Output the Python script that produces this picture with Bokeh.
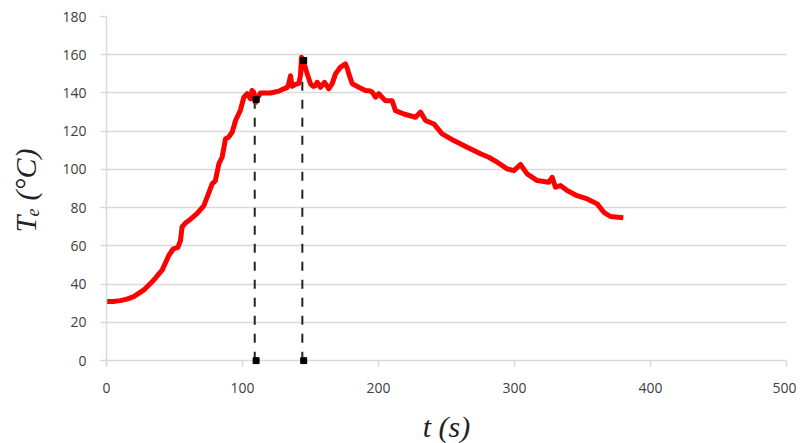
from bokeh.plotting import figure
from bokeh.models import Range1d, FixedTicker
from bokeh.embed import file_html
from bokeh.resources import INLINE

# Temperature curve Te(t)
t_s = [0, 5, 10, 15, 20, 27.5, 34.8, 41, 45.8, 49, 52.5, 54.4, 55.6, 58, 61.8, 66.7, 71.5,
       74, 77.7, 80, 82.6, 85, 87.5, 90, 92.4, 94.9, 98.5, 101, 103.4, 105.9, 107, 108.3,
       109.6, 110.8, 113.2, 117, 120.6, 123, 127, 130.4, 132.8, 134, 135.3, 136.5, 139,
       141.4, 142.6, 143.4, 145, 147.6, 150, 152, 153.7, 154.9, 157.4, 160.3, 163.5, 166,
       168.4, 172, 175.7, 177, 178.2, 180.7, 185.5, 190.4, 194, 195.4, 197.8, 200.2, 205,
       210, 212.5, 218.6, 227.2, 230.9, 234.6, 240.7, 246.8, 255.4, 265.2, 275, 281.1,
       287.3, 294.6, 299.5, 304.4, 309.3, 316.7, 325.2, 327.7, 330.1, 333.8, 338.7, 346,
       353.5, 360.8, 365.7, 370.6, 380]
te_c = [31, 31, 31.4, 32.2, 33.5, 37, 42.2, 47.5, 55, 58.4, 59.3, 62.8, 70, 72, 74, 77, 81,
        85.5, 92.5, 94, 102.9, 106.4, 116, 117, 119.5, 125.6, 131, 137.8, 139.6, 137, 141.3,
        140.4, 135, 137, 140, 140, 140, 140.4, 141, 142.2, 142.8, 144.7, 149, 143.5, 144.5,
        145, 149, 158.7, 156, 150, 144.8, 143.5, 143.9, 145.6, 143, 145.6, 142.2, 145,
        150, 153.5, 155.2, 153, 150, 144.8, 143, 141.3, 141, 140.4, 137.8, 139.6, 136,
        136, 130.8, 129, 127.3, 130, 125.6, 123.8, 118.6, 115.1, 111.6, 108.2, 106.4,
        103.8, 100.3, 99.4, 102.6, 97.7, 94.2, 93.3, 95.9, 90.7, 91.6, 89, 86.3,
        84.6, 82, 77.6, 75.4, 74.7]

# Marked instants
mark_t = [110, 145]
mark_te = [136.6, 157]
drop_t = [109, 144]

x_ticks = [0, 100, 200, 300, 400, 500]
y_ticks = [0, 20, 40, 60, 80, 100, 120, 140, 160, 180]

p = figure(frame_width=680, frame_height=348, output_backend="svg", toolbar_location=None,
           x_range=Range1d(0, 500), y_range=Range1d(-2, 180),
           min_border_left=106, min_border_right=10, min_border_top=16, min_border_bottom=78)

p.outline_line_color = None
p.background_fill_color = "white"
p.border_fill_color = "white"

p.xgrid.grid_line_color = None
p.ygrid.grid_line_color = "#d9d9d9"
p.ygrid.grid_line_width = 1.5
p.ygrid.ticker = FixedTicker(ticks=y_ticks)

for ax in (p.xaxis[0], p.yaxis[0]):
    ax.axis_line_color = "#d9d9d9"
    ax.axis_line_width = 1.5
    ax.major_tick_line_color = "#d9d9d9"
    ax.major_tick_line_width = 1.5
    ax.minor_tick_line_color = None
    ax.major_label_text_font = "Open Sans"
    ax.major_label_text_font_size = "14px"
    ax.major_label_text_color = "#404040"
    ax.axis_label_text_font = "Liberation Serif"
    ax.axis_label_text_font_style = "italic"
    ax.axis_label_text_font_size = "30px"
    ax.axis_label_text_color = "#222222"

p.xaxis[0].axis_line_color = None
p.xaxis[0].major_tick_in = 4
p.xaxis[0].major_tick_out = 2
p.yaxis[0].major_tick_in = 0
p.yaxis[0].major_tick_out = 6

p.xaxis[0].ticker = FixedTicker(ticks=x_ticks)
p.yaxis[0].ticker = FixedTicker(ticks=y_ticks)
p.xaxis[0].major_label_standoff = 16
p.yaxis[0].major_label_standoff = 14
p.xaxis[0].axis_label = "t (s)"
p.yaxis[0].axis_label = "Tₑ (°C)"
p.xaxis[0].axis_label_standoff = 14
p.yaxis[0].axis_label_standoff = 17

# dashed drop lines
p.segment(x0=drop_t, y0=[0, 0], x1=drop_t, y1=mark_te, line_color="#222222",
          line_width=2, line_dash="9 9")

p.line(t_s, te_c, line_color="#ff0000", line_width=5, line_join="round")

p.scatter(mark_t, mark_te, marker="square", size=6, color="black")
p.scatter(mark_t, [0, 0], marker="square", size=6, color="black")

open("out.html", "w").write(file_html(p, INLINE))
